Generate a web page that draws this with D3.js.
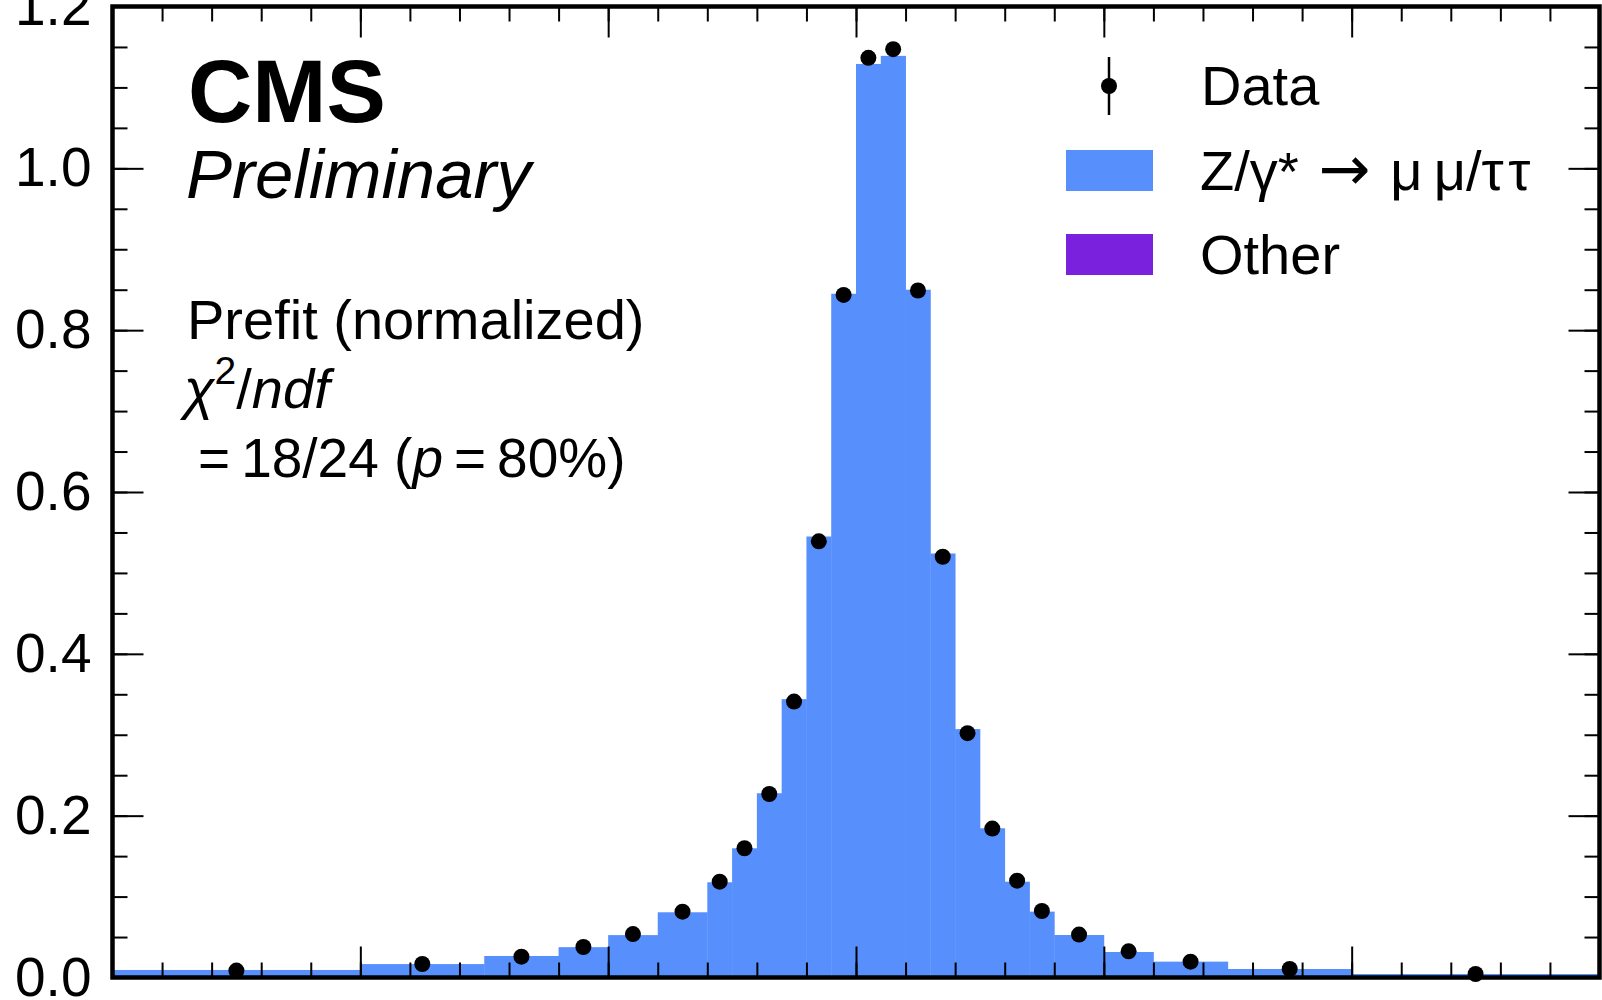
<!DOCTYPE html>
<html>
<head>
<meta charset="utf-8">
<script src="https://cdn.jsdelivr.net/npm/d3@7"></script>
<style>
  body { margin: 0; background: #fff; }
  text { font-family: "Liberation Sans", Arial, Helvetica, sans-serif; fill: #000; }
  .tick line { stroke: #000; stroke-width: 2px; }
</style>
</head>
<body>
<svg id="screen" width="1602" height="1000"></svg>
<script>
// bin edges in GeV (variable binning)
const binEdges = [60, 70, 75, 78, 80, 82, 84, 85, 86, 87, 88, 89, 90, 91, 92, 93, 94, 95, 96, 97, 98, 100, 102, 105, 110, 120];

// stacked MC, normalized
const otherValues = [0.0003, 0.0003, 0.0004, 0.0004, 0.0004, 0.0005, 0.0005, 0.0005, 0.0005, 0.0006, 0.0006, 0.0006, 0.0006, 0.0006, 0.0006, 0.0006, 0.0005, 0.0005, 0.0005, 0.0005, 0.0004, 0.0004, 0.0004, 0.0003, 0.0003];
const dyValues = [0.0090, 0.0163, 0.0262, 0.0371, 0.0520, 0.0801, 0.1172, 0.1592, 0.2272, 0.3434, 0.5444, 0.8444, 1.1284, 1.1384, 0.8494, 0.5234, 0.3065, 0.1839, 0.1179, 0.0809, 0.0521, 0.0311, 0.0192, 0.0102, 0.0040];

// data points
const dataValues = [0.0085, 0.0167, 0.0257, 0.0377, 0.0537, 0.0814, 0.1184, 0.1597, 0.2268, 0.341, 0.539, 0.8436, 1.1366, 1.1473, 0.849, 0.520, 0.302, 0.184, 0.1197, 0.0822, 0.053, 0.0323, 0.0196, 0.0105, 0.0043];

const yMajorTicks = [0.0, 0.2, 0.4, 0.6, 0.8, 1.0, 1.2];
const xMajorTicks = [60, 70, 80, 90, 100, 110, 120];

const colors = { dy: "#5790fc", other: "#7a21dd" };

const plotLeft = 112.5, plotRight = 1599.5, plotTop = 6.5, plotBottom = 977.5;

const x = d3.scaleLinear().domain([60, 120]).range([plotLeft, plotRight]);
const y = d3.scaleLinear().domain([0, 1.2]).range([plotBottom, plotTop]);

const bins = dyValues.map((v, i) => ({
  lo: binEdges[i],
  hi: binEdges[i + 1],
  other: otherValues[i],
  dy: v,
  data: dataValues[i]
}));

const svg = d3.select("#screen");

// stacked histogram: Other below, Z/γ* on top
svg.append("g").selectAll("rect")
  .data(bins).enter().append("rect")
  .attr("x", d => x(d.lo))
  .attr("width", d => x(d.hi) - x(d.lo))
  .attr("y", d => y(d.other))
  .attr("height", d => y(0) - y(d.other))
  .attr("fill", colors.other);

svg.append("g").selectAll("rect")
  .data(bins).enter().append("rect")
  .attr("x", d => x(d.lo))
  .attr("width", d => x(d.hi) - x(d.lo) + 0.4)
  .attr("y", d => y(d.other + d.dy))
  .attr("height", d => y(d.other) - y(d.other + d.dy))
  .attr("fill", colors.dy);

// data markers
svg.append("g").selectAll("circle")
  .data(bins).enter().append("circle")
  .attr("cx", d => x((d.lo + d.hi) / 2))
  .attr("cy", d => y(d.data))
  .attr("r", 8)
  .attr("fill", "#000");

// ticks on all four sides, pointing inward
const yMinor = d3.range(0, 1.2001, 0.05);
const xMinor = d3.range(60, 120.001, 2);

svg.append("g").attr("transform", `translate(${plotLeft},0)`)
  .call(d3.axisLeft(y).tickValues(yMinor).tickSize(-15).tickFormat(""));
svg.append("g").attr("transform", `translate(${plotLeft},0)`)
  .call(d3.axisLeft(y).tickValues(yMajorTicks).tickSize(-31).tickPadding(21).tickFormat(d3.format(".1f")))
  .selectAll("text").style("font-size", "55px");

svg.append("g").attr("transform", `translate(${plotRight},0)`)
  .call(d3.axisRight(y).tickValues(yMinor).tickSize(-15).tickFormat(""));
svg.append("g").attr("transform", `translate(${plotRight},0)`)
  .call(d3.axisRight(y).tickValues(yMajorTicks).tickSize(-31).tickFormat(""));

svg.append("g").attr("transform", `translate(0,${plotBottom})`)
  .call(d3.axisBottom(x).tickValues(xMinor).tickSize(-15).tickFormat(""));
svg.append("g").attr("transform", `translate(0,${plotBottom})`)
  .call(d3.axisBottom(x).tickValues(xMajorTicks).tickSize(-31).tickFormat(""));

svg.append("g").attr("transform", `translate(0,${plotTop})`)
  .call(d3.axisTop(x).tickValues(xMinor).tickSize(-15).tickFormat(""));
svg.append("g").attr("transform", `translate(0,${plotTop})`)
  .call(d3.axisTop(x).tickValues(xMajorTicks).tickSize(-31).tickFormat(""));

svg.selectAll(".domain").remove();

// frame
svg.append("rect")
  .attr("x", plotLeft).attr("y", plotTop)
  .attr("width", plotRight - plotLeft).attr("height", plotBottom - plotTop)
  .attr("fill", "none").attr("stroke", "#000").attr("stroke-width", 4.5);

// CMS label
svg.append("text").text("CMS")
  .attr("x", 188).attr("y", 122)
  .style("font-size", "89px").style("font-weight", "bold");
svg.append("text").text("Preliminary")
  .attr("x", 186).attr("y", 198)
  .style("font-size", "69px").style("font-style", "italic");

// fit info
svg.append("text").text("Prefit (normalized)")
  .attr("x", 187).attr("y", 339)
  .style("font-size", "56px");

const chi = svg.append("text").attr("x", 184).attr("y", 408).style("font-size", "56px");
chi.append("tspan").text("χ").style("font-style", "italic");
chi.append("tspan").text("2").attr("dy", -24).style("font-size", "39px");
chi.append("tspan").text("/").attr("dy", 24);
chi.append("tspan").text("ndf").style("font-style", "italic");

const res = svg.append("text").attr("x", 198).attr("y", 477).style("font-size", "55px");
res.append("tspan").text("=\u200918/24 (");
res.append("tspan").text("p").style("font-style", "italic");
res.append("tspan").text("\u2009=\u200980%)");

// legend
const legend = svg.append("g");
legend.append("line")
  .attr("x1", 1109).attr("x2", 1109).attr("y1", 57).attr("y2", 115)
  .attr("stroke", "#000").attr("stroke-width", 2.5);
legend.append("circle").attr("cx", 1109).attr("cy", 86).attr("r", 8).attr("fill", "#000");
legend.append("text").text("Data").attr("x", 1201).attr("y", 105).style("font-size", "56px");

legend.append("rect").attr("x", 1066).attr("y", 150).attr("width", 87).attr("height", 41).attr("fill", colors.dy);
const zl = legend.append("text").attr("x", 1200).attr("y", 190).style("font-size", "56px");
zl.append("tspan").text("Z/γ");
zl.append("tspan").text("*").style("font-size", "54px");
zl.append("tspan").text(" → ").style("font-family", "'DejaVu Sans'").style("font-size", "62px");
zl.append("tspan").text("μ\u2009μ/τ\u200aτ");

legend.append("rect").attr("x", 1066).attr("y", 234).attr("width", 87).attr("height", 41).attr("fill", colors.other);
legend.append("text").text("Other").attr("x", 1200).attr("y", 274).style("font-size", "56px");
</script>
</body>
</html>
